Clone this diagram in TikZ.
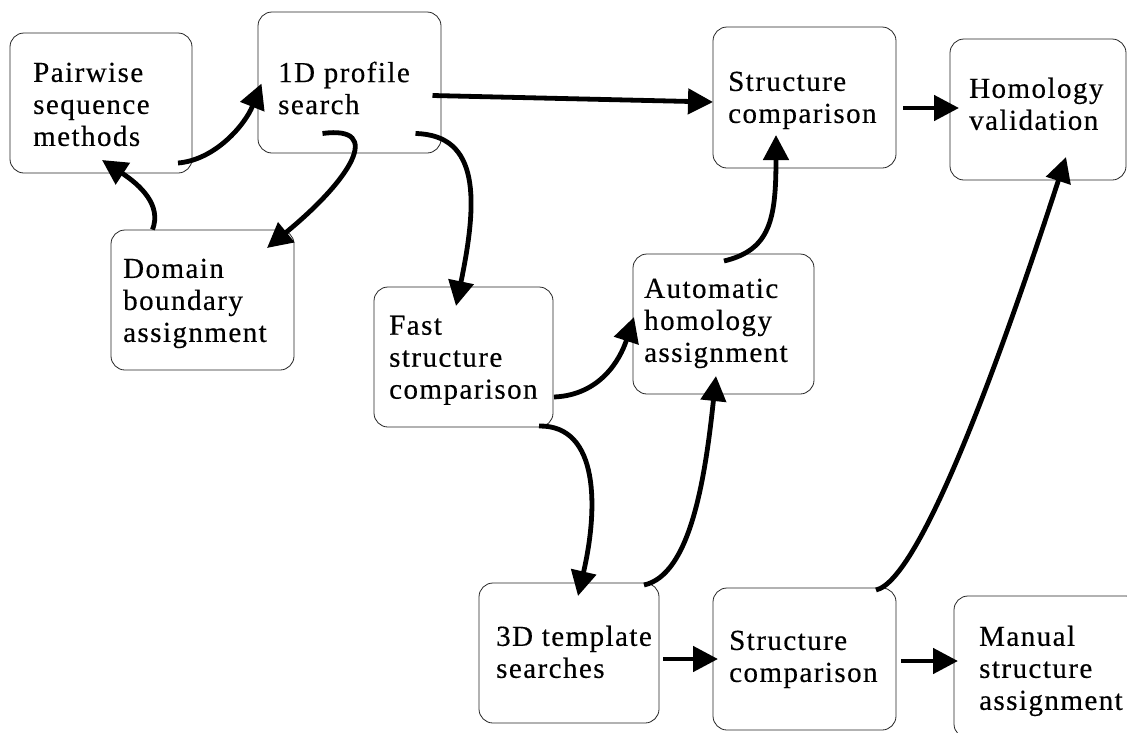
\documentclass[tikz,border=0pt]{standalone}
\usepackage{fontspec}
\setmainfont{Liberation Serif}[LetterSpace=5,FakeBold=0.4]
\usetikzlibrary{arrows.meta,calc}
\begin{document}
\begin{tikzpicture}[x=1pt,y=-1pt,
  box/.style={draw=black!85, line width=0.8pt, rounded corners=14pt, fill=white, inner sep=0pt},
  txt/.style={anchor=north west, inner sep=0pt, align=left, font=\fontsize{29}{32}\selectfont},
  arr/.style={line width=4.8pt, -{Triangle[length=25pt,width=25pt]}}]
\useasboundingbox (0,0) rectangle (1127,732);
\clip (0,0) rectangle (1127,732);
\fill[white] (0,0) rectangle (1127,732);

% boxes
\node[box, minimum width=182pt, minimum height=140pt] (b1) at (101,103) {};
\node[box, minimum width=183pt, minimum height=141pt] (b2) at (349.5,82.5) {};
\node[box, minimum width=183pt, minimum height=140pt] (b3) at (202.5,300) {};
\node[box, minimum width=183pt, minimum height=141pt] (b4) at (804.5,97.5) {};
\node[box, minimum width=176pt, minimum height=141pt] (b5) at (1038,109.5) {};
\node[box, minimum width=179pt, minimum height=140pt] (b6) at (463.5,357) {};
\node[box, minimum width=181pt, minimum height=140pt] (b7) at (723.5,324) {};
\node[box, minimum width=180pt, minimum height=140pt] (b8) at (569,653) {};
\node[box, minimum width=183pt, minimum height=142pt] (b9) at (804.5,659) {};
\node[box, minimum width=186pt, minimum height=142pt] (b10) at (1047,667) {};

% texts
\node[txt] (t1) at (33,62.5) {Pairwise\\sequence\\methods};
\node[txt] (t2) at (278,61.5) {1D profile\\search};
\node[txt] (t3) at (123,258.5) {Domain\\boundary\\assignment};
\node[txt] (t4) at (728,71.5) {Structure\\comparison};
\node[txt] (t5) at (969,77.5) {Homology\\validation};
\node[txt] (t6) at (389,315.5) {Fast\\structure\\comparison};
\node[txt] (t7) at (644,278.5) {Automatic\\homology\\assignment};
\node[txt] (t8) at (496,625.5) {3D template\\searches};
\node[txt] (t9) at (729,630.5) {Structure\\comparison};
\node[txt] (t10) at (979,625.5) {Manual\\structure\\assignment};

% connectors
\draw[arr] ($(b1)+(77,60)$) .. controls (215,160) and (245,125) .. ($(b2)+(-88,1)$);
\draw[arr] ($(b3.north)+(-50,0)$) .. controls (162,205) and (140,185) .. ($(b1)+(1,57)$);
\draw[arr] ($(b2)+(-27,51)$) .. controls (385,125) and (350,180) .. ($(b3)+(64.5,-52)$);
\draw[arr] ($(b2)+(83,13)$) -- ($(b4)+(-91.5,4.5)$);
\draw[arr] ($(b2)+(66,51)$) .. controls (480,135) and (478,200) .. ($(b6)+(-7.5,-51)$);
\draw[arr] ($(b4)+(98.5,10.5)$) -- ($(b5)+(-79,-1.5)$);
\draw[arr] ($(b6)+(90.5,40)$) .. controls (600,395) and (620,360) .. ($(b7)+(-89.5,-7)$);
\draw[arr] ($(b7)+(0.5,-63)$) .. controls (770,250) and (776,220) .. ($(b4)+(-28.5,37.5)$);
\draw[arr] ($(b6)+(75.5,69)$) .. controls (600,425) and (598,510) .. ($(b8)+(9,-57)$);
\draw[arr] ($(b8)+(75,-68)$) .. controls (690,575) and (705,480) .. ($(b7)+(-7.5,52)$);
\draw[arr] ($(b9)+(71.5,-69)$) .. controls (920,580) and (1000,360) .. ($(b5)+(28,47.5)$);
\draw[arr] ($(b8)+(94,6)$) -- ($(b9)+(-86.5,0)$);
\draw[arr] ($(b9)+(96.5,2)$) -- ($(b10)+(-89,-6)$);
\end{tikzpicture}
\end{document}
